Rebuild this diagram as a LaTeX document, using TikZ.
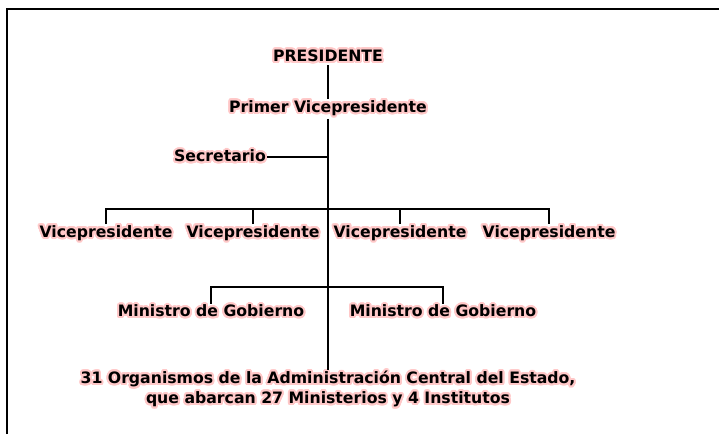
\documentclass[tikz,border=0pt]{standalone}
\usepackage{fontspec}
\setmainfont{DejaVu Sans}
\usepackage{contour}
\usetikzlibrary{positioning}
\definecolor{glowred}{RGB}{255,200,200}
\contourlength{2pt}
\contournumber{24}
\newcommand{\glow}[1]{\contour{glowred}{#1}}

\begin{document}
\begin{tikzpicture}[x=1pt,y=1pt,
    post/.style={font=\bfseries\fontsize{15.7}{19}\selectfont, inner sep=1pt},
    link/.style={line width=2pt}]
    \useasboundingbox (0,0) rectangle (719,-434);
    \draw[line width=2.5pt] (7,-434) -- (7,-9) -- (719,-9);

    % top of the chart
    \node[post] (pres) at (328,-57) {\glow{PRESIDENTE}};
    \node[post] (primer) at (328,-109) {\glow{Primer Vicepresidente}};
    \node[post] (sec) at (220,-157) {\glow{Secretario}};

    % vicepresidents
    \node[post] (vice1) at (106,-234) {\glow{Vicepresidente}};
    \node[post] (vice2) at (253,-234) {\glow{Vicepresidente}};
    \node[post] (vice3) at (400,-234) {\glow{Vicepresidente}};
    \node[post] (vice4) at (549,-234) {\glow{Vicepresidente}};

    % ministers
    \node[post] (min1) at (211,-312) {\glow{Ministro de Gobierno}};
    \node[post] (min2) at (443,-312) {\glow{Ministro de Gobierno}};

    \node[post, align=center] (org) at (328,-390)
        {\glow{31 Organismos de la Administración Central del Estado,}\\[1pt]
         \glow{que abarcan 27 Ministerios y 4 Institutos}};

    \coordinate (bar) at (328,-209);
    \coordinate (minbar) at (328,-287);

    \draw[link] (pres.south) -- (primer.north);
    \draw[link] (primer.south) -- (org.north);
    \draw[link] (sec.east) -- (sec.east -| primer.south);
    \draw[link] (vice1.north) |- (bar) -| (vice4.north);
    \draw[link] (vice2.north) -- (vice2.north |- bar);
    \draw[link] (vice3.north) -- (vice3.north |- bar);
    \draw[link] (min1.north) |- (minbar) -| (min2.north);
\end{tikzpicture}
\end{document}
